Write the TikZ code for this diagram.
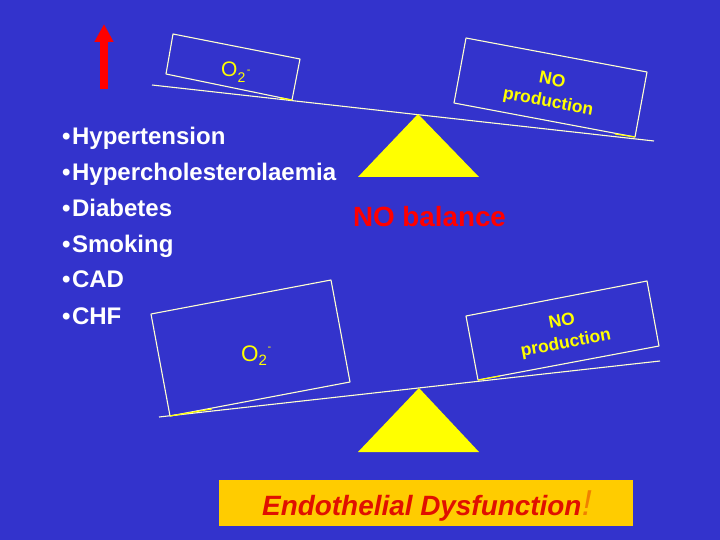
\documentclass[tikz,border=0pt]{standalone}
\usepackage{fontspec}
\setmainfont{Liberation Sans}
\usetikzlibrary{arrows.meta}
\definecolor{bgblue}{HTML}{3333CC}
\definecolor{scaleyellow}{HTML}{FFFF00}
\definecolor{paleline}{HTML}{FFFFD0}
\definecolor{bannergold}{HTML}{FFCC00}
\definecolor{bannerred}{HTML}{E01000}
\definecolor{bangorange}{HTML}{F08000}
\definecolor{arrowred}{HTML}{FF0000}
\tikzset{
  x=1pt,y=-1pt,
  panel/.style={draw=paleline,line width=1.1pt,line join=round},
  beam/.style={draw=paleline,line width=1.1pt},
  contact/.style={draw=scaleyellow,line width=1.1pt},
  pivot/.style={fill=scaleyellow,draw=none},
  bullet/.style={text=white,font=\fontsize{24}{24}\selectfont\bfseries,anchor=base west,inner sep=0pt},
  oxy/.style={text=scaleyellow,inner sep=0pt,anchor=base west},
  prodtext/.style={text=scaleyellow,inner sep=0pt,font=\fontsize{17.5}{22}\selectfont\bfseries,align=center},
}
\newcommand{\oxytext}[5]{\fontsize{#1}{#1}\selectfont O\raisebox{#5}{\fontsize{#2}{#2}\selectfont 2}\hspace{#3}\raisebox{#4}{\fontsize{11}{11}\selectfont -}}
\newcommand{\bulletitem}[1]{•\hspace{1.5pt}#1}
\begin{document}
\begin{tikzpicture}
\useasboundingbox (0,0) rectangle (720,540);
\fill[bgblue] (0,0) rectangle (720,540);
% arrow
\coordinate (arrowtail) at (104,89);
\coordinate (arrowtip) at (104,24);
\draw[arrowred,line width=7.5pt,-{Triangle[length=18pt,width=18pt]}] (arrowtail) -- (arrowtip);
% top scale
\coordinate (beamAl) at (152,85);
\coordinate (beamAr) at (654,141);
\draw[beam] (beamAl) -- (beamAr);
\draw[panel] (173,34) -- (300,59) -- (292,100) -- (166,74) -- cycle;
\draw[panel] (466,38) -- (647,72) -- (635,137) -- (454,103) -- cycle;
\draw[contact] (280,98) -- (292,100);
\draw[contact] (615,134) -- (635,137);
\fill[pivot] (418,114) -- (479,177) -- (358,177) -- cycle;
\node[oxy] (oxyA) at (221,77) {\oxytext{21}{14}{1.5pt}{3pt}{-6pt}};
\node[prodtext,rotate=-10.6] (prodA) at (550,92) {NO\\production};
% bottom scale
\coordinate (beamBl) at (159,417);
\coordinate (beamBr) at (660,361);
\draw[beam] (beamBl) -- (beamBr);
\draw[panel] (151,314) -- (331,280) -- (350,382) -- (170,416) -- cycle;
\draw[panel] (466,316) -- (647,281) -- (659,346) -- (478,380) -- cycle;
\draw[contact] (170,416) -- (212,409);
\draw[contact] (478,380) -- (500,376);
\fill[pivot] (419,388) -- (479,452) -- (358,452) -- cycle;
\node[oxy] (oxyB) at (241,361) {\oxytext{22.5}{15}{0.5pt}{11pt}{-4pt}};
\node[prodtext,rotate=10.6] (prodB) at (564,333) {NO\\production};
% list
\node[bullet] (l1) at (62,145) {\bulletitem{Hypertension}};
\node[bullet] (l2) at (62,181) {\bulletitem{Hypercholesterolaemia}};
\node[bullet] (l3) at (62,216) {\bulletitem{Diabetes}};
\node[bullet] (l4) at (62,252) {\bulletitem{Smoking}};
\node[bullet] (l5) at (62,287) {\bulletitem{CAD}};
\node[bullet] (l6) at (62,324) {\bulletitem{CHF}};
\node[text=arrowred,inner sep=0pt,font=\fontsize{27.8}{28}\selectfont\bfseries] (bal) at (429.5,217) {NO balance};
% banner
\node[fill=bannergold,minimum width=414pt,minimum height=46pt,inner sep=0pt] (banner) at (426,503) {};
\node[inner sep=0pt,anchor=base west,text=bannerred,font=\fontsize{27.9}{28}\selectfont\bfseries\itshape] (bannertext) at (262,515) {Endothelial Dysfunction};
\node[inner sep=0pt,anchor=base west,text=bangorange,font=\fontsize{36}{36}\selectfont\itshape] (bang) at (bannertext.base east) {!};
\end{tikzpicture}
\end{document}
